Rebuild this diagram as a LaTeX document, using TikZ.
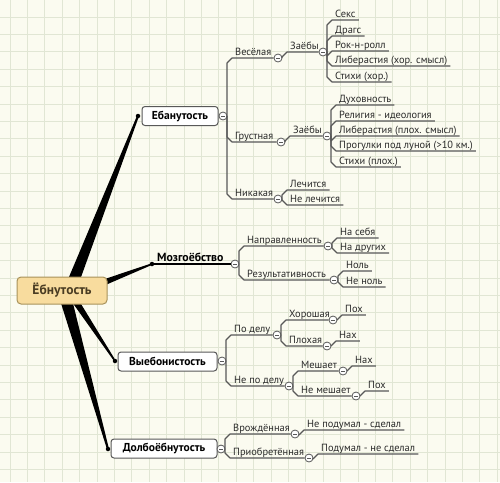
\documentclass[tikz,border=0pt]{standalone}
\usepackage{fontspec}
\setmainfont{PT Sans}
\usetikzlibrary{calc}
\definecolor{bg}{HTML}{FBFBF0}
\definecolor{gridc}{HTML}{E1E6D4}
\definecolor{ln}{HTML}{585858}
\definecolor{tx}{HTML}{2A2A2A}
\definecolor{rootfill}{HTML}{F8DC9E}
\definecolor{rootdraw}{HTML}{A8925A}
\definecolor{rtext}{HTML}{4A3C22}
\tikzset{
  br/.style={draw=ln, line width=1.1pt, line join=round},
  lbl/.style={inner sep=0pt, text=tx, font=\fontsize{10.4}{12}\selectfont, anchor=base west},
  knob/.style={circle, draw=ln, fill=white, line width=0.8pt, minimum size=8pt, inner sep=0pt,
    path picture={\draw[ln, line width=0.8pt] ([xshift=-2pt]path picture bounding box.center) -- ([xshift=2pt]path picture bounding box.center);}},
  dotn/.style={circle, fill=black, minimum size=4.5pt, inner sep=0pt},
  topic/.style={draw=ln, fill=white, rounded corners=3pt, line width=1pt, inner sep=0pt, minimum height=19pt, text=black, font=\bfseries\fontsize{11.5}{13}\selectfont},
  rootbox/.style={draw=rootdraw, fill=rootfill, rounded corners=4pt, line width=1pt, minimum width=90pt, minimum height=27pt, text=rtext, font=\bfseries\fontsize{13.5}{15}\selectfont},
}
% inner child: name, spine x, parent y, child y, text, knob x
\newcommand\kid[6]{%
  \pgfmathsetmacro\dd{(#4>#3)?-5:5}%
  \node[lbl] (#1) at (#2+8,#4-3) {#5};
  \node[knob] (#1c) at (#6,#4) {};
  \draw[br] (#2,#3) -- (#2,#4+\dd) -- (#2+5,#4) -- (#1c.west);}
% leaf: name, spine x, parent y, child y, text
\newcommand\leaf[5]{%
  \pgfmathsetmacro\dd{(#4>#3)?-5:5}%
  \node[lbl] (#1) at (#2+8,#4-3) {#5};
  \draw[br] (#2,#3) -- (#2,#4+\dd) -- (#2+5,#4) -- ([xshift=3pt,yshift=-3pt]#1.base east);}
\begin{document}
\begin{tikzpicture}[x=1pt,y=-1pt]
\fill[bg] (0,0) rectangle (500,482);
\useasboundingbox (0,0) rectangle (500,482);
\foreach \i in {0,...,28} \draw[gridc, line width=0.8pt] ({10+17.4*\i},0) -- ({10+17.4*\i},482);
\foreach \j in {0,...,27} \draw[gridc, line width=0.8pt] (0,{17+17.4*\j}) -- (500,{17+17.4*\j});

% main topic anchors
\node[dotn] (ebnd) at (138,116) {};
\node[dotn] (mzgd) at (152,264) {};
\node[dotn] (vybd) at (115,361) {};
\node[dotn] (dlbd) at (108,449) {};
\coordinate (w1) at (70,290);
\coordinate (w2) at (92,287);
\coordinate (w3) at (72,296);
\coordinate (w4) at (65,296);
% tapered connectors
\fill[black] ($(w1)!6pt!90:(ebnd)$) -- ($(ebnd)!1pt!-90:(w1)$) -- ($(ebnd)!1pt!90:(w1)$) -- ($(w1)!6pt!-90:(ebnd)$) -- cycle;
\fill[black] ($(w2)!3.5pt!90:(mzgd)$) -- ($(mzgd)!0.8pt!-90:(w2)$) -- ($(mzgd)!0.8pt!90:(w2)$) -- ($(w2)!3.5pt!-90:(mzgd)$) -- cycle;
\fill[black] ($(w3)!3.5pt!90:(vybd)$) -- ($(vybd)!0.8pt!-90:(w3)$) -- ($(vybd)!0.8pt!90:(w3)$) -- ($(w3)!3.5pt!-90:(vybd)$) -- cycle;
\fill[black] ($(w4)!6pt!90:(dlbd)$) -- ($(dlbd)!1pt!-90:(w4)$) -- ($(dlbd)!1pt!90:(w4)$) -- ($(w4)!6pt!-90:(dlbd)$) -- cycle;

\node[rootbox] (root) at (62,290.5) {Ёбнутость};

\node[topic, minimum width=76pt] (ebn) at (180,116) {Ебанутость};
\node[knob] (ebnc) at (223,116) {};
\node[lbl, font=\bfseries\fontsize{11.8}{13}\selectfont, text=black] (mzg) at (157,261) {Мозгоёбство};
\node[knob] (mzgc) at (235,264) {};
\draw[black, line width=1.2pt] (mzgd) -- (mzgc.west);
\node[topic, minimum width=99pt] (vyb) at (167.5,361.5) {Выебонистость};
\node[knob] (vybc) at (222,361) {};
\node[topic, minimum width=106pt] (dlb) at (164,448.5) {Долбоёбнутость};
\node[knob] (dlbc) at (221,449) {};

% Ебанутость
\kid{ves}{227}{116}{58}{Весёлая}{278}
\kid{gru}{227}{116}{142}{Грустная}{281}
\kid{nik}{227}{116}{199}{Никакая}{278}
\kid{zaeA}{282}{58}{52}{Заёбы}{323}
\leaf{sex}{327}{52}{20}{Секс}
\leaf{drg}{327}{52}{36}{Драгс}
\leaf{rok}{327}{52}{51}{Рок-н-ролл}
\leaf{lbA}{327}{52}{66}{Либерастия (хор. смысл)}
\leaf{stA}{327}{52}{82}{Стихи (хор.)}
\kid{zaeB}{285}{142}{136}{Заёбы}{327}
\leaf{duh}{331}{136}{105}{Духовность}
\leaf{rel}{331}{136}{121}{Религия - идеология}
\leaf{lbB}{331}{136}{136}{Либерастия (плох. смысл)}
\leaf{prg}{331}{136}{151}{Прогулки под луной (>10 км.)}
\leaf{stB}{331}{136}{167}{Стихи (плох.)}
\leaf{lec}{282}{199}{190}{Лечится}
\leaf{nlc}{282}{199}{205}{Не лечится}

% Мозгоёбство
\kid{nap}{239}{264}{246}{Направленность}{328}
\kid{res}{239}{264}{280}{Результативность}{334}
\leaf{nas}{332}{246}{238}{На себя}
\leaf{nad}{332}{246}{253}{На других}
\leaf{nol}{338}{280}{271}{Ноль}
\leaf{nnl}{338}{280}{287}{Не ноль}

% Выебонистость
\kid{pod}{226}{361}{335}{По делу}{277}
\kid{npd}{226}{361}{386}{Не по делу}{289}
\kid{hor}{281}{335}{320}{Хорошая}{333}
\kid{plo}{281}{335}{346}{Плохая}{327}
\leaf{poxA}{337}{320}{315}{Пох}
\leaf{naxA}{331}{346}{341}{Нах}
\kid{mes}{293}{386}{371}{Мешает}{343}
\kid{nme}{293}{386}{396}{Не мешает}{356}
\leaf{naxB}{347}{371}{366}{Нах}
\leaf{poxB}{360}{396}{391}{Пох}

% Долбоёбнутость
\kid{vro}{225}{449}{434}{Врождённая}{295}
\kid{pri}{225}{449}{458}{Приобретённая}{309}
\leaf{nps}{299}{434}{430}{Не подумал - сделал}
\leaf{pns}{313}{458}{454}{Подумал - не сделал}
\end{tikzpicture}
\end{document}
